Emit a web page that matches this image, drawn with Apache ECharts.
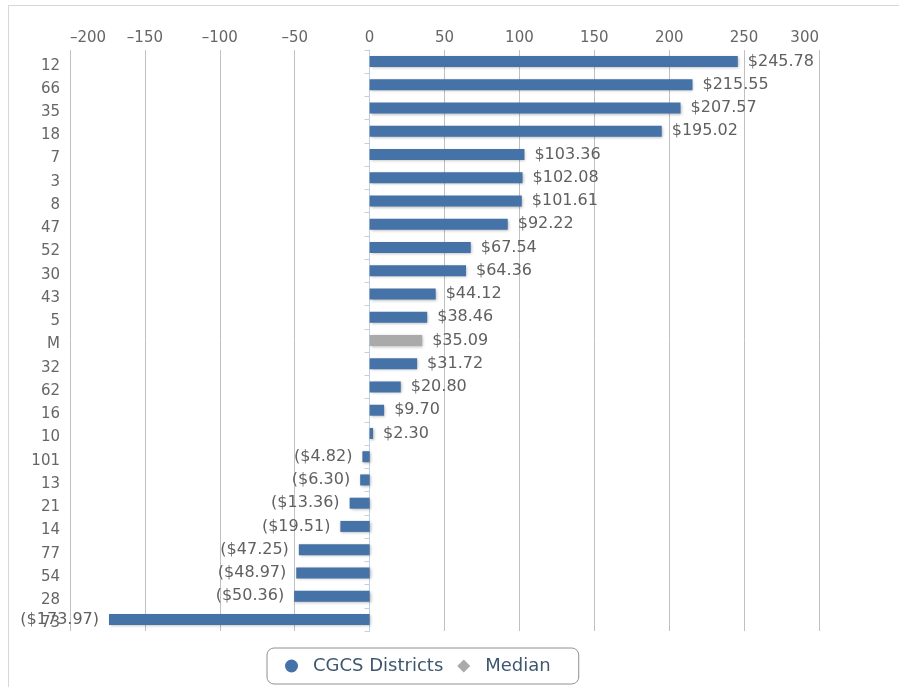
<!DOCTYPE html>
<html>
<head>
<meta charset="utf-8">
<script src="https://cdn.jsdelivr.net/npm/echarts@6/dist/echarts.min.js"></script>
<style>
html,body{margin:0;padding:0;background:#fff;}
#frame{position:absolute;left:8px;top:5px;width:900px;height:700px;border:1px solid #d8d8d8;box-sizing:border-box;}
#chart{position:absolute;left:0;top:0;width:899px;height:687px;}
</style>
</head>
<body>
<div id="frame"></div>
<div id="chart"></div>
<script>
const categories = ['12','66','35','18','7','3','8','47','52','30','43','5','M','32','62','16','10','101','13','21','14','77','54','28','73'];
const districtValues = [245.78,215.55,207.57,195.02,103.36,102.08,101.61,92.22,67.54,64.36,44.12,38.46,null,31.72,20.80,9.70,2.30,-4.82,-6.30,-13.36,-19.51,-47.25,-48.97,-50.36,-173.97];
const medianValues = [null,null,null,null,null,null,null,null,null,null,null,null,35.09,null,null,null,null,null,null,null,null,null,null,null,null];
const xTicks = {min:-200, max:300, interval:50};

function fmt(v){
  return v >= 0 ? '$' + v.toFixed(2) : '($' + Math.abs(v).toFixed(2) + ')';
}
function toData(arr){
  return arr.map(v => v === null ? '-' : {
    value: v,
    label: {position: v < 0 ? 'left' : 'right'}
  });
}
const shadow = {shadowColor:'rgba(0,0,0,0.3)', shadowBlur:3, shadowOffsetX:1, shadowOffsetY:1};
const labelCfg = {
  show:true, color:'#606060', fontSize:16, fontFamily:'DejaVu Sans', distance:10,
  formatter: p => fmt(p.value)
};

const chart = echarts.init(document.getElementById('chart'));
chart.setOption({
  animation:false,
  textStyle:{fontFamily:'DejaVu Sans'},
  grid:{left:70, right:80, top:50, bottom:56, containLabel:false},
  xAxis:{
    type:'value', position:'top', min:xTicks.min, max:xTicks.max, interval:xTicks.interval,
    axisLine:{show:false}, axisTick:{show:false},
    axisLabel:{color:'#666', fontSize:15, margin:4, alignMinLabel:'left', alignMaxLabel:'right',
      formatter: v => (v < 0 ? '\u2013' + Math.abs(v) : String(v))},
    splitLine:{show:true, lineStyle:{color:'#c0c0c0', width:1}}
  },
  yAxis:{
    type:'category', data:categories, inverse:true,
    axisLine:{show:true, lineStyle:{color:'#C0D0E0'}},
    axisTick:{show:true, length:5, lineStyle:{color:'#C0D0E0'}},
    axisLabel:{color:'#666', fontSize:15, margin:10,
      formatter: v => '{c|' + v + '}',
      rich:{c:{color:'#666', fontSize:15, fontFamily:'DejaVu Sans', padding:[8,0,0,0]}}}
  },
  legend:{
    bottom:3, left:267,
    data:[{name:'CGCS Districts', icon:'circle'},{name:'Median', icon:'diamond'}],
    itemWidth:13, itemHeight:13, itemGap:14,
    borderColor:'#909090', borderWidth:1, borderRadius:7,
    padding:[9,28,9,18],
    textStyle:{color:'#3E576F', fontSize:18, fontFamily:'DejaVu Sans', padding:[0,0,0,10]}
  },
  series:[
    {name:'CGCS Districts', type:'bar', stack:'a', barWidth:11,
     itemStyle:Object.assign({color:'#4572A7'}, shadow),
     label:labelCfg, data:toData(districtValues)},
    {name:'Median', type:'bar', stack:'a', barWidth:11,
     itemStyle:Object.assign({color:'#AAAAAA'}, shadow),
     label:labelCfg, data:toData(medianValues)}
  ]
});
</script>
</body>
</html>
